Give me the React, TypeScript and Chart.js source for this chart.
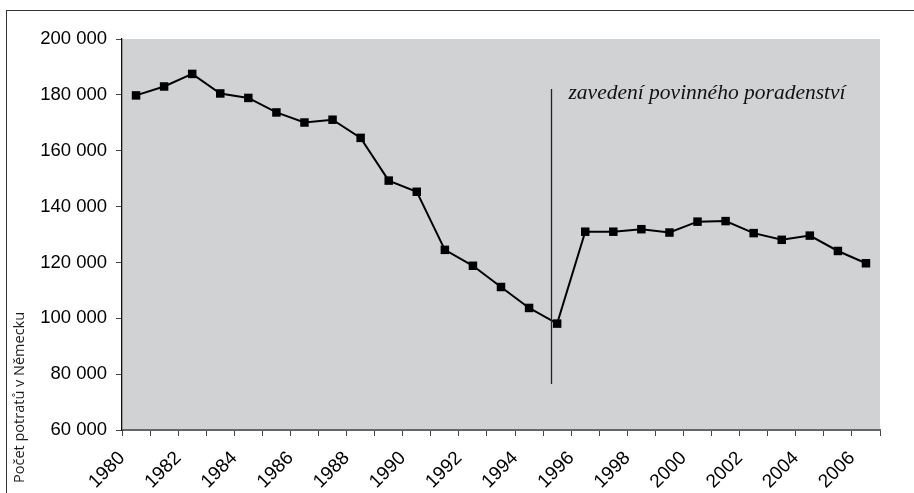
import React, { useEffect, useRef } from 'react';
import { Chart, registerables } from 'chart.js';

Chart.register(...registerables);

// ---- data ----
const years = [
  '1980', '1981', '1982', '1983', '1984', '1985', '1986', '1987', '1988', '1989',
  '1990', '1991', '1992', '1993', '1994', '1995', '1996', '1997', '1998', '1999',
  '2000', '2001', '2002', '2003', '2004', '2005', '2006',
];
const abortions = [
  179800, 183000, 187500, 180500, 178900, 173700, 170100, 171100, 164600, 149300,
  145300, 124500, 118800, 111200, 103700, 98100, 131000, 131000, 131900, 130700,
  134600, 134800, 130500, 128100, 129600, 124100, 119700,
];
const yMin = 60000;
const yMax = 200000;
const yStep = 20000;
const yTitle = 'Počet potratů v Německu';
const annotationText = 'zavedení povinného poradenství';
// vertical marker, in category-index / value units
const markerIndex = 14.78;
const markerTop = 182100;
const markerBottom = 76500;
const annotationTextValue = 178600;

const fmt = (v: number) => String(v).replace(/\B(?=(\d{3})+(?!\d))/g, ' ');

const bgPlugin = {
  id: 'plotBg',
  beforeDraw(chart: any) {
    const { ctx, chartArea } = chart;
    ctx.save();
    ctx.fillStyle = '#d1d2d4';
    ctx.fillRect(chartArea.left, chartArea.top, chartArea.right - chartArea.left, chartArea.bottom - chartArea.top);
    ctx.restore();
  },
};

const annotationPlugin = {
  id: 'annot',
  afterDatasetsDraw(chart: any) {
    const { ctx } = chart;
    const xs = chart.scales.x;
    const ys = chart.scales.y;
    const x = Math.round(xs.getPixelForValue(markerIndex)) + 0.5;
    ctx.save();
    ctx.strokeStyle = '#222';
    ctx.lineWidth = 1.3;
    ctx.beginPath();
    ctx.moveTo(x, ys.getPixelForValue(markerTop));
    ctx.lineTo(x, ys.getPixelForValue(markerBottom));
    ctx.stroke();
    ctx.fillStyle = '#111';
    ctx.font = 'italic 21.5px "Liberation Serif", "DejaVu Serif", serif';
    ctx.textAlign = 'left';
    ctx.textBaseline = 'alphabetic';
    ctx.fillText(annotationText, x + 17, ys.getPixelForValue(annotationTextValue));
    ctx.restore();
  },
  afterDraw(chart: any) {
    const { ctx } = chart;
    const ys = chart.scales.y;
    ctx.save();
    ctx.fillStyle = '#1a1a1a';
    ctx.font = '14.5px "Open Sans", "Noto Sans", sans-serif';
    ctx.translate(20, ys.bottom + 53);
    ctx.rotate(-Math.PI / 2);
    ctx.textAlign = 'left';
    ctx.textBaseline = 'middle';
    ctx.fillText(yTitle, 0, 0);
    ctx.restore();
  },
};

export default function App() {
  const ref = useRef<HTMLCanvasElement | null>(null);
  useEffect(() => {
    if (!ref.current) return;
    const chart = new Chart(ref.current, {
      type: 'line',
      data: {
        labels: years,
        datasets: [
          {
            data: abortions,
            borderColor: '#000',
            borderWidth: 2,
            pointStyle: 'rect',
            pointRadius: 6,
            pointBorderWidth: 0,
            pointBackgroundColor: '#000',
            tension: 0,
          },
        ],
      },
      options: {
        animation: false,
        responsive: false,
        layout: { padding: { top: 39, right: 34, left: 0, bottom: 0 } },
        plugins: { legend: { display: false }, tooltip: { enabled: false }, title: { display: false } },
        scales: {
          x: {
            type: 'category',
            offset: true,
            grid: { offset: true, drawOnChartArea: false, drawTicks: true, tickLength: 6, tickColor: '#444', lineWidth: 1 },
            border: { color: '#666', width: 2 },
            ticks: {
              autoSkip: false,
              maxRotation: 45,
              minRotation: 45,
              labelOffset: -14,
              padding: 11,
              color: '#000',
              font: { family: '"Liberation Sans", Arial, sans-serif', size: 19 },
              callback: (_v: any, i: number) => (i % 2 === 0 ? years[i] : ''),
            },
            afterFit: (s: any) => { s.height = 63; },
          },
          y: {
            min: yMin,
            max: yMax,
            grid: { drawOnChartArea: false, drawTicks: true, tickLength: 6, tickColor: '#444' },
            border: { color: '#111', width: 1.3 },
            ticks: {
              stepSize: yStep,
              padding: 9,
              color: '#000',
              font: { family: '"Liberation Sans", Arial, sans-serif', size: 18.5 },
              callback: (v: any) => fmt(Number(v)),
            },
            afterFit: (s: any) => { s.width = 122; },
          },
        },
      },
      plugins: [bgPlugin, annotationPlugin],
    });
    return () => chart.destroy();
  }, []);
  return (
    <div style={{ position: 'fixed', left: 0, top: 0, width: 914, height: 493, overflow: 'hidden', background: '#fff' }}>
      <canvas ref={ref} width={914} height={493} style={{ position: 'absolute', left: 0, top: 0, width: 914, height: 493 }} />
      <div style={{ position: 'absolute', left: 6, top: 10, width: 2000, height: 2000, borderTop: '1px solid #333', borderLeft: '1px solid #333', pointerEvents: 'none' }} />
    </div>
  );
}
